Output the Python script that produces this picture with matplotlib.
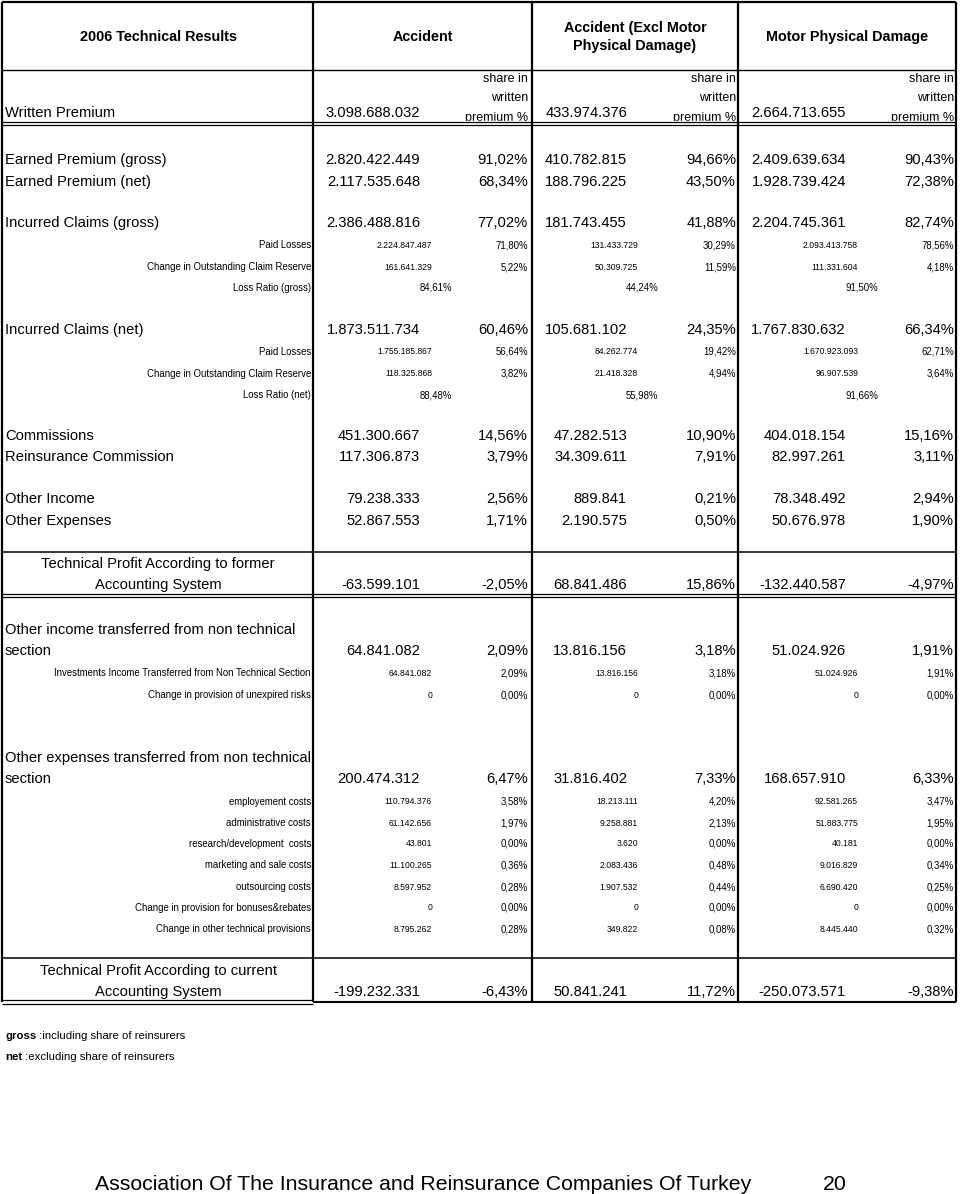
import matplotlib.pyplot as plt

plt.rcParams['font.family'] = ['Liberation Sans', 'DejaVu Sans']

# ---- data -------------------------------------------------------------
table_title = "2006 Technical Results"
columns = ["Accident", "Accident (Excl Motor\nPhysical Damage)", "Motor Physical Damage"]
written_premium = [3098688032, 433974376, 2664713655]
share_label = ["share in", "written", "premium %"]

row_labels = [
    "Earned Premium (gross)",
    "Earned Premium (net)",
    "Incurred Claims (gross)",
    "Paid Losses",
    "Change in Outstanding Claim Reserve",
    "Loss Ratio (gross)",
    "Incurred Claims (net)",
    "Paid Losses",
    "Change in Outstanding Claim Reserve",
    "Loss Ratio (net)",
    "Commissions",
    "Reinsurance Commission",
    "Other Income",
    "Other Expenses",
    "Technical Profit According to former\nAccounting System",
    "Other income transferred from non technical\nsection",
    "Investments Income Transferred from Non Technical Section",
    "Change in provision of unexpired risks",
    "Other expenses transferred from non technical\nsection",
    "employement costs",
    "administrative costs",
    "research/development  costs",
    "marketing and sale costs",
    "outsourcing costs",
    "Change in provision for bonuses&rebates",
    "Change in other technical provisions",
    "Technical Profit According to current\nAccounting System",
]

accident_amt = [2820422449, 2117535648, 2386488816, 2224847487, 161641329, None,
                1873511734, 1755185867, 118325868, None,
                451300667, 117306873, 79238333, 52867553,
                -63599101, 64841082, 64841082, 0,
                200474312, 110794376, 61142656, 43801, 11100265, 8597952, 0, 8795262,
                -199232331]
accident_pct = [91.02, 68.34, 77.02, 71.80, 5.22, 84.61,
                60.46, 56.64, 3.82, 88.48,
                14.56, 3.79, 2.56, 1.71,
                -2.05, 2.09, 2.09, 0.00,
                6.47, 3.58, 1.97, 0.00, 0.36, 0.28, 0.00, 0.28,
                -6.43]

excl_motor_amt = [410782815, 188796225, 181743455, 131433729, 50309725, None,
                  105681102, 84262774, 21418328, None,
                  47282513, 34309611, 889841, 2190575,
                  68841486, 13816156, 13816156, 0,
                  31816402, 18213111, 9258881, 3620, 2083436, 1907532, 0, 349822,
                  50841241]
excl_motor_pct = [94.66, 43.50, 41.88, 30.29, 11.59, 44.24,
                  24.35, 19.42, 4.94, 55.98,
                  10.90, 7.91, 0.21, 0.50,
                  15.86, 3.18, 3.18, 0.00,
                  7.33, 4.20, 2.13, 0.00, 0.48, 0.44, 0.00, 0.08,
                  11.72]

motor_amt = [2409639634, 1928739424, 2204745361, 2093413758, 111331604, None,
             1767830632, 1670923093, 96907539, None,
             404018154, 82997261, 78348492, 50676978,
             -132440587, 51024926, 51024926, 0,
             168657910, 92581265, 51883775, 40181, 9016829, 6690420, 0, 8445440,
             -250073571]
motor_pct = [90.43, 72.38, 82.74, 78.56, 4.18, 91.50,
             66.34, 62.71, 3.64, 91.66,
             15.16, 3.11, 2.94, 1.90,
             -4.97, 1.91, 1.91, 0.00,
             6.33, 3.47, 1.95, 0.00, 0.34, 0.25, 0.00, 0.32,
             -9.38]

notes = [("gross", " :including share of reinsurers"),
         ("net", " :excluding share of reinsurers")]
footer = "Association Of The Insurance and Reinsurance Companies Of Turkey"
page_no = "20"

# ---- layout (pixels, y down) -------------------------------------------
row_y = [160, 182, 223, 245, 267, 288, 330, 352, 374, 395, 436, 457, 499, 521,
         585, 651, 673, 695, 779, 802, 823, 844, 865, 887, 908, 929, 992]
row_kind = ['main', 'main', 'main', 'sub', 'sub', 'ratio', 'main', 'sub', 'sub', 'ratio',
            'main', 'main', 'main', 'main', 'total', 'main', 'sub', 'sub',
            'main', 'sub', 'sub', 'sub', 'sub', 'sub', 'sub', 'sub', 'total']
share_y = [79, 98, 117.5]

X_LINES = [2, 313, 532, 738, 956]
AMT_RIGHT = [420, 627, 846]
PCT_RIGHT = [528, 736, 954]
SUB_AMT_RIGHT = [432, 638, 858]
RATIO_RIGHT = [452, 658, 878]
BIG, SMALL, SUBNUM = 10.6, 6.9, 6.2
LINE_H = 21


def fmt_amt(v):
    return "{:,}".format(v).replace(",", ".")


def fmt_pct(p):
    return "{:.2f}%".format(p).replace(".", ",")


fig = plt.figure(figsize=(9.6, 11.94), dpi=100)
ax = fig.add_axes([0, 0, 1, 1])
ax.set_xlim(0, 960)
ax.set_ylim(1194, 0)
ax.axis('off')

# header
ax.text(158, 37, table_title, ha='center', va='center', fontsize=10.4, fontweight='bold')
for i, name in enumerate(columns):
    cx = (X_LINES[i + 1] + X_LINES[i + 2]) / 2
    ax.text(cx, 37, name, ha='center', va='center', fontsize=10.4, fontweight='bold',
            linespacing=1.45)

ax.text(5, 113, "Written Premium", ha='left', va='center', fontsize=BIG)
for i, wp in enumerate(written_premium):
    ax.text(AMT_RIGHT[i], 113, fmt_amt(wp), ha='right', va='center', fontsize=BIG)
    for k, s in enumerate(share_label):
        ax.text(PCT_RIGHT[i], share_y[k], s, ha='right', va='center', fontsize=9)

# body rows
cols_amt = [accident_amt, excl_motor_amt, motor_amt]
cols_pct = [accident_pct, excl_motor_pct, motor_pct]
for r, label in enumerate(row_labels):
    y = row_y[r]
    kind = row_kind[r]
    if kind == 'main':
        lines = label.split("\n")
        for k, s in enumerate(lines):
            ax.text(5, y - LINE_H * (len(lines) - 1 - k), s, ha='left', va='center', fontsize=BIG)
    elif kind == 'total':
        lines = label.split("\n")
        for k, s in enumerate(lines):
            ax.text(158, y - LINE_H * (len(lines) - 1 - k), s, ha='center', va='center', fontsize=BIG)
    else:
        ax.text(311, y, label, ha='right', va='center', fontsize=SMALL)

    for c in range(3):
        amt = cols_amt[c][r]
        pct = cols_pct[c][r]
        if kind == 'ratio':
            ax.text(RATIO_RIGHT[c], y, fmt_pct(pct), ha='right', va='center', fontsize=SMALL)
        elif kind == 'sub':
            ax.text(SUB_AMT_RIGHT[c], y, fmt_amt(amt), ha='right', va='center', fontsize=SUBNUM)
            ax.text(PCT_RIGHT[c], y, fmt_pct(pct), ha='right', va='center', fontsize=SMALL)
        else:
            ax.text(AMT_RIGHT[c], y, fmt_amt(amt), ha='right', va='center', fontsize=BIG)
            ax.text(PCT_RIGHT[c], y, fmt_pct(pct), ha='right', va='center', fontsize=BIG)

# grid lines
ax.fill_between([0, 960], 121, 128, color='white', zorder=3)
ax.fill_between([0, 960], 594, 598, color='white', zorder=3)
ax.hlines(2, X_LINES[0], X_LINES[-1], color='black', lw=1.6, zorder=4)
ax.hlines(70, X_LINES[0], X_LINES[-1], color='black', lw=1.0, zorder=4)
ax.hlines([121.5, 125], X_LINES[0], X_LINES[-1], color='black', lw=0.9, zorder=4)
ax.hlines(552, X_LINES[0], X_LINES[-1], color='black', lw=1.1, zorder=4)
ax.hlines([593.5, 597], X_LINES[0], X_LINES[-1], color='black', lw=0.9, zorder=4)
ax.hlines(958, X_LINES[0], X_LINES[-1], color='black', lw=1.1, zorder=4)
ax.hlines(1001.5, X_LINES[1], X_LINES[-1], color='black', lw=1.5, zorder=4)
ax.hlines([1000, 1003.5], X_LINES[0], X_LINES[1], color='black', lw=0.9, zorder=4)
ax.vlines(X_LINES, 2, 1002, color='black', lw=1.6, zorder=5)

# notes & footer
for k, (bold, rest) in enumerate(notes):
    t = ax.text(5, 1036 + 21 * k, bold, ha='left', va='center', fontsize=8.2, fontweight='bold')
    ax.annotate(rest, xy=(1, 0.5), xycoords=t, ha='left', va='center', fontsize=8.2)

ax.text(95, 1185, footer, ha='left', va='center', fontsize=15.3)
ax.text(835, 1185, page_no, ha='center', va='center', fontsize=15.3)

fig.savefig("out.png", dpi=100)
